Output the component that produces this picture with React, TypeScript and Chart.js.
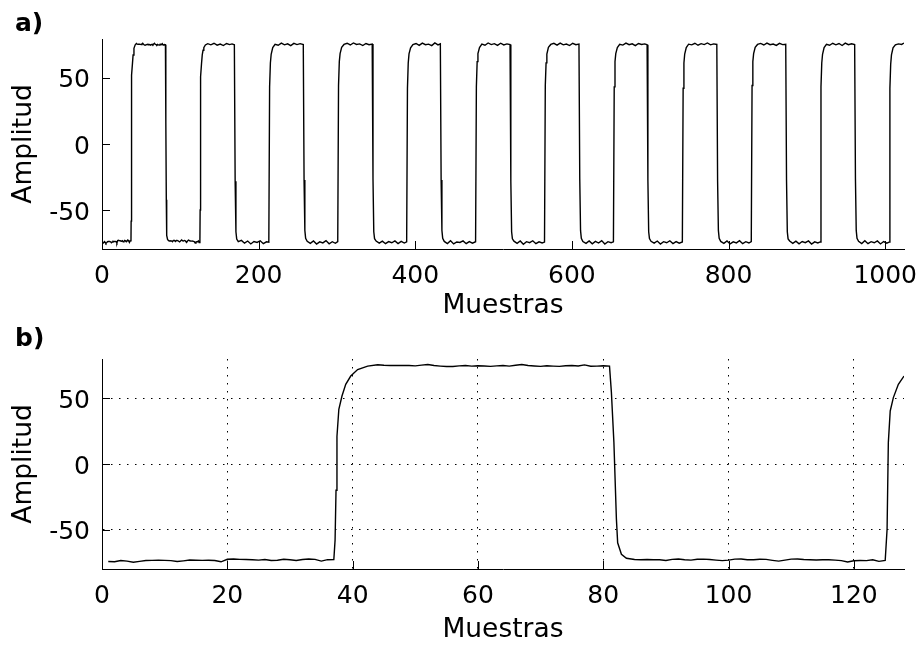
import { useEffect, useRef } from "react";
import { Chart, registerables } from "chart.js";

Chart.register(...registerables);

const FONT = '"DejaVu Sans", "Liberation Sans", Arial, sans-serif';

// First 128 samples of the record: [sample, amplitude].
// Transitions keep the sub-sample points of the acquired trace.
const firstSamples: [number, number][] = [
  [1, -74.3], [2, -74.5], [3, -73.5], [4, -74.0], [5, -74.8], [6, -74.2], [7, -73.5], [8, -73.4], [9, -73.3], [10, -73.4],
  [11, -73.6], [12, -74.3], [13, -73.8], [14, -73.2], [15, -73.3], [16, -73.4], [17, -73.3], [18, -73.5], [19, -74.5], [20, -72.6],
  [21, -72.4], [22, -72.7], [23, -72.8], [24, -73.0], [25, -73.2], [26, -72.8], [27, -73.5], [28, -73.3], [29, -72.6], [30, -72.9],
  [31, -73.5], [32, -72.8], [33, -72.4], [34, -72.7], [35, -74.0], [36, -72.9], [37, -72.8],
  [37.2, -58], [37.35, -20], [37.5, 21], [37.8, 41.7], [38.3, 51.8], [38.9, 60.7], [39.7, 67], [40.8, 72], [42.4, 74.6], [44, 75.6],
  [45, 75.2], [46, 75.0], [47, 75.0], [48, 75.1], [49, 75.0], [50, 74.8], [51, 75.3], [52, 75.8], [53, 75.0], [54, 74.6],
  [55, 74.3], [56, 74.3], [57, 74.8], [58, 75.0], [59, 74.6], [60, 74.9], [61, 74.7], [62, 74.4], [63, 74.8], [64, 75.0],
  [65, 74.6], [66, 75.2], [67, 75.8], [68, 75.0], [69, 74.7], [70, 74.4], [71, 74.9], [72, 74.6], [73, 74.4], [74, 74.9],
  [75, 75.0], [76, 74.7], [77, 75.5], [78, 74.5], [79, 74.6], [80, 74.8], [81, 74.6],
  [81.3, 54.6], [81.7, 16.5], [82.1, -42], [82.3, -60], [82.9, -68.8], [83.7, -71.8], [85, -72.8],
  [86, -73.0], [87, -72.8], [88, -72.9], [89, -73.0], [90, -73.5], [91, -72.7], [92, -72.4], [93, -72.9], [94, -73.2], [95, -72.6],
  [96, -72.5], [97, -72.8], [98, -73.2], [99, -73.6], [100, -73.2], [101, -72.5], [102, -72.4], [103, -72.9], [104, -73.0], [105, -72.6],
  [106, -72.7], [107, -73.4], [108, -74.0], [109, -73.2], [110, -72.5], [111, -72.4], [112, -72.8], [113, -73.0], [114, -73.1], [115, -73.0],
  [116, -73.0], [117, -73.2], [118, -73.6], [119, -74.6], [120, -73.7], [121, -73.5], [122, -73.6], [123, -73.0], [124, -74.2], [125, -73.5],
  [125.3, -49.7], [125.5, 16.3], [125.8, 40.4], [126.3, 50.6], [127.1, 60.7], [128, 67],
];

// Rest of the 1024-sample record, vertices every few samples: [sample, amplitude]
const recordTail: [number, number][] = [
  [129, 70.5], [130, 72.5], [132, 74.5], [135, 75.5], [139, 74.6], [143, 75.8], [147, 74.4], [151, 75.2], [155, 74.1], [159, 75.6], [163, 74.8], [166, 75.3], [169, 74.6],
  [170, -28], [171, -66], [172, -71.5], [174, -73.4], [178, -72.5], [182, -74.6], [186, -73.0], [190, -75.2], [194, -73.4], [198, -74.1], [202, -72.8], [206, -75.0], [210, -73.6], [213, -73.9],
  [214, 43], [215, 61], [216, 67.5], [218, 72.5], [221, 75.0], [225, 74.3], [229, 75.9], [233, 74.6], [237, 75.4], [241, 74.0], [245, 75.7], [249, 74.8], [253, 75.5], [257, 74.9],
  [258, -27], [259, -65], [260, -71], [262, -73.2], [266, -74.8], [270, -72.9], [274, -75.3], [278, -73.6], [282, -74.4], [286, -72.7], [290, -75.1], [294, -73.5], [298, -74.7], [301, -73.4],
  [302, 44], [303, 62], [304, 68], [306, 72.8], [309, 74.9], [313, 75.8], [317, 74.5], [321, 76.0], [325, 74.9], [329, 75.3], [333, 74.1], [337, 75.6], [341, 74.7], [345, 75.2],
  [346, -26], [347, -66], [348, -71.2], [350, -73.0], [354, -74.6], [358, -73.1], [362, -75.0], [366, -73.4], [370, -74.3], [374, -72.9], [378, -74.9], [382, -73.3], [386, -74.5], [389, -73.6],
  [390, 42], [391, 61], [392, 67.8], [394, 72.4], [397, 74.8], [401, 75.6], [405, 74.2], [409, 75.9], [413, 74.7], [417, 75.1], [421, 74.0], [425, 76.1], [429, 74.6], [432, 75.4],
  [433, -27], [434, -65], [435, -71], [437, -73.3], [441, -74.9], [445, -72.8], [449, -75.2], [453, -73.7], [457, -74.1], [461, -72.9], [465, -75.0], [469, -73.4], [473, -74.6], [477, -73.5],
  [478, 43], [479, 62], [480, 68], [482, 72.6], [485, 75.1], [489, 74.3], [493, 76.0], [497, 74.8], [501, 75.5], [505, 74.2], [509, 75.8], [513, 74.5], [517, 75.3], [521, 74.8],
  [522, -28], [523, -66], [524, -71.3], [526, -73.1], [530, -74.7], [534, -73.0], [538, -75.4], [542, -73.5], [546, -74.2], [550, -72.8], [554, -75.0], [558, -73.6], [562, -74.4], [565, -73.8],
  [566, 44], [567, 61], [568, 67.6], [570, 72.7], [573, 74.9], [577, 75.7], [581, 74.4], [585, 75.9], [589, 74.6], [593, 75.2], [597, 74.1], [601, 75.8], [605, 74.7], [609, 75.1],
  [610, -26], [611, -65], [612, -71], [614, -73.4], [618, -74.8], [622, -72.9], [626, -75.1], [630, -73.3], [634, -74.5], [638, -72.7], [642, -75.2], [646, -73.5], [650, -74.3], [653, -73.6],
  [654, 43], [655, 62], [656, 68], [658, 72.5], [661, 75.0], [665, 74.4], [669, 75.9], [673, 74.7], [677, 75.4], [681, 74.0], [685, 75.6], [689, 74.9], [693, 75.3], [696, 74.7],
  [697, -27], [698, -66], [699, -71.2], [701, -73.2], [705, -74.6], [709, -73.0], [713, -75.3], [717, -73.5], [721, -74.3], [725, -72.8], [729, -74.9], [733, -73.4], [737, -74.6], [741, -73.7],
  [742, 42], [743, 61], [744, 67.7], [746, 72.6], [749, 75.1], [753, 74.6], [757, 75.8], [761, 74.3], [765, 75.5], [769, 74.8], [773, 76.0], [777, 74.6], [781, 75.3], [785, 74.9],
  [786, -28], [787, -65], [788, -71], [790, -73.3], [794, -74.7], [798, -72.9], [802, -75.2], [806, -73.6], [810, -74.4], [814, -72.8], [818, -75.0], [822, -73.5], [826, -74.5], [829, -73.5],
  [830, 44], [831, 62], [832, 68], [834, 72.8], [837, 74.9], [841, 75.7], [845, 74.5], [849, 75.9], [853, 74.7], [857, 75.2], [861, 74.2], [865, 75.7], [869, 74.8], [873, 75.1],
  [874, -27], [875, -66], [876, -71.4], [878, -73.0], [882, -74.8], [886, -73.1], [890, -75.1], [894, -73.4], [898, -74.2], [902, -72.9], [906, -75.3], [910, -73.6], [914, -74.4], [917, -73.7],
  [918, 43], [919, 61], [920, 67.5], [922, 72.5], [925, 75.0], [929, 74.3], [933, 75.8], [937, 74.6], [941, 75.6], [945, 74.1], [949, 75.9], [953, 74.7], [957, 75.4], [961, 74.8],
  [962, -26], [963, -65], [964, -71], [966, -73.2], [970, -74.9], [974, -72.8], [978, -75.0], [982, -73.5], [986, -74.3], [990, -72.9], [994, -75.2], [998, -73.4], [1002, -74.6], [1005, -73.8],
  [1006, 42], [1007, 60], [1008, 67], [1010, 72.3], [1013, 74.6], [1017, 75.3], [1021, 74.9], [1024, 76.0],
];

const fullRecord: [number, number][] = [...firstSamples, ...recordTail];

const fullTicksX = [0, 200, 400, 600, 800, 1000];
const zoomTicksX = [0, 20, 40, 60, 80, 100, 120];
const amplitudeTicks = [-50, 0, 50];

const X_TITLE = "Muestras";
const Y_TITLE = "Amplitud";

type PanelProps = {
  points: [number, number][];
  xMax: number;
  yLimit: number;
  xTicks: number[];
  showGrid: boolean;
  label: string;
  height: number;
  plotTop: number;
  plotBottom: number;
  labelBaseline: number;
  xTitleBaseline: number;
};

const PLOT_LEFT = 102;
const PLOT_RIGHT = 904;
const WIDTH = 924;

function Panel(props: PanelProps) {
  const ref = useRef<HTMLCanvasElement>(null);

  useEffect(() => {
    const canvas = ref.current;
    if (!canvas) return;
    const { points, xMax, yLimit, xTicks, showGrid, label, height, plotTop, plotBottom, labelBaseline, xTitleBaseline } = props;

    // Axis decorations: inward tick marks, panel letter and axis titles
    const decor = {
      id: "panelDecor",
      afterDraw(chart: any) {
        const { ctx, chartArea, scales } = chart;
        ctx.save();
        ctx.strokeStyle = "#000";
        ctx.lineWidth = 1;
        ctx.setLineDash([]);
        ctx.beginPath();
        for (const t of scales.x.ticks) {
          const px = Math.round(scales.x.getPixelForValue(t.value)) + 0.5;
          ctx.moveTo(px, chartArea.bottom);
          ctx.lineTo(px, chartArea.bottom - 8);
        }
        for (const t of scales.y.ticks) {
          const py = Math.round(scales.y.getPixelForValue(t.value)) + 0.5;
          ctx.moveTo(chartArea.left, py);
          ctx.lineTo(chartArea.left + 8, py);
        }
        ctx.stroke();

        ctx.fillStyle = "#000";
        ctx.textBaseline = "alphabetic";
        ctx.font = `bold 25px ${FONT}`;
        ctx.textAlign = "left";
        ctx.fillText(label, 15, labelBaseline);

        ctx.font = `26.5px ${FONT}`;
        ctx.textAlign = "center";
        ctx.fillText(X_TITLE, (chartArea.left + chartArea.right) / 2, xTitleBaseline);

        ctx.translate(31, (chartArea.top + chartArea.bottom) / 2);
        ctx.rotate(-Math.PI / 2);
        ctx.fillText(Y_TITLE, 0, 0);
        ctx.restore();
      },
    };

    const tickFont = { family: FONT, size: 25 };

    const chart = new Chart(canvas, {
      type: "line",
      data: {
        datasets: [
          {
            data: points.map(([x, y]) => ({ x, y })),
            borderColor: "#000",
            borderWidth: 1.4,
            pointRadius: 0,
            tension: 0,
            fill: false,
          },
        ],
      },
      options: {
        responsive: false,
        animation: false,
        devicePixelRatio: 1,
        layout: { padding: { left: 0, top: plotTop, right: WIDTH - PLOT_RIGHT, bottom: 0 } },
        plugins: {
          legend: { display: false },
          tooltip: { enabled: false },
          title: { display: false },
        },
        scales: {
          x: {
            type: "linear",
            min: 0,
            max: xMax,
            afterBuildTicks: (s: any) => {
              s.ticks = xTicks.map((v) => ({ value: v }));
            },
            afterFit: (s: any) => {
              s.height = height - plotBottom;
              s.paddingLeft = 0;
              s.paddingRight = 0;
            },
            grid: { display: showGrid, color: "#000", lineWidth: 1, drawTicks: false },
            border: { display: true, color: "#000", width: 1, dash: [1.5, 6.5] },
            ticks: {
              color: "#000",
              font: tickFont,
              padding: 12,
              autoSkip: false,
              maxRotation: 0,
              minRotation: 0,
              callback: (v: any) => String(v),
            },
          },
          y: {
            type: "linear",
            min: -yLimit,
            max: yLimit,
            afterBuildTicks: (s: any) => {
              s.ticks = amplitudeTicks.map((v) => ({ value: v }));
            },
            afterFit: (s: any) => {
              s.width = PLOT_LEFT;
            },
            grid: { display: showGrid, color: "#000", lineWidth: 1, drawTicks: false },
            border: { display: true, color: "#000", width: 1, dash: [1.5, 6.5] },
            ticks: {
              color: "#000",
              font: tickFont,
              padding: 12,
              labelOffset: 3,
              autoSkip: false,
              callback: (v: any) => String(v),
            },
          },
        },
      } as any,
      plugins: [decor],
    });

    return () => chart.destroy();
  }, []);

  return <canvas ref={ref} width={WIDTH} height={props.height} style={{ display: "block" }} />;
}

export default function App() {
  return (
    <div style={{ position: "fixed", left: 0, top: 0, width: WIDTH, height: 645, background: "#fff" }}>
      <Panel
        points={fullRecord}
        xMax={1024}
        yLimit={79}
        xTicks={fullTicksX}
        showGrid={false}
        label="a)"
        height={322}
        plotTop={39}
        plotBottom={249}
        labelBaseline={31}
        xTitleBaseline={313}
      />
      <Panel
        points={firstSamples}
        xMax={128}
        yLimit={80}
        xTicks={zoomTicksX}
        showGrid={true}
        label="b)"
        height={323}
        plotTop={37}
        plotBottom={247}
        labelBaseline={24}
        xTitleBaseline={315}
      />
    </div>
  );
}
